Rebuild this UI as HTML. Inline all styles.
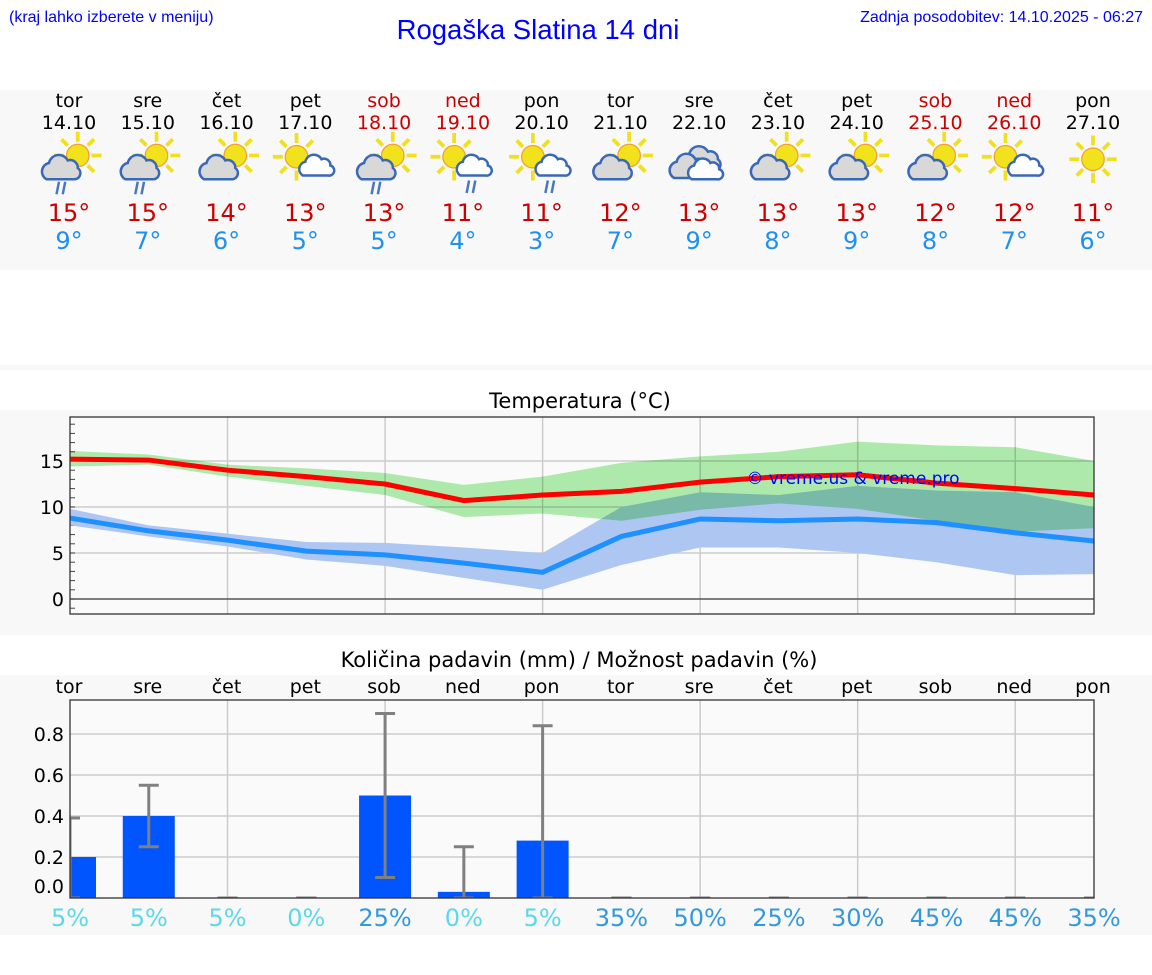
<!DOCTYPE html>
<html><head><meta charset="utf-8">
<style>
body{margin:0;background:#fff;width:1152px;height:975px;overflow:hidden;}
svg{display:block;font-family:"DejaVu Sans","Liberation Sans",sans-serif;}
.ls{font-family:"Liberation Sans",sans-serif;}
</style></head>
<body>
<svg id="root" width="1152" height="975" viewBox="0 0 1152 975">
<defs>
  <g id="sun">
    <g stroke="#f0e020" stroke-width="3" stroke-linecap="butt">
      <line x1="0" y1="-19" x2="0" y2="-11"/><line x1="0" y1="19" x2="0" y2="11"/>
      <line x1="-19" y1="0" x2="-11" y2="0"/><line x1="19" y1="0" x2="11" y2="0"/>
      <line x1="-13" y1="-13" x2="-8" y2="-8"/><line x1="13" y1="13" x2="8" y2="8"/>
      <line x1="-13" y1="13" x2="-8" y2="8"/><line x1="13" y1="-13" x2="8" y2="-8"/>
    </g>
    <circle r="9" fill="#f2e21c" stroke="#f0a030" stroke-width="1"/>
  </g>
  <path id="cloudg" d="M-14,8 a7,7 0 0 1 2,-13 a8,8 0 0 1 15,-2 a6,6 0 0 1 8,6 a5,5 0 0 1 -2,9 z" fill="#d8d8d8" stroke="#3a68b8" stroke-width="2"/>
  <path id="cloudw" d="M-12,7 a6,6 0 0 1 2,-11 a7,7 0 0 1 13,-2 a5,5 0 0 1 7,5 a4,4 0 0 1 -2,8 z" fill="#fff" stroke="#3a68b8" stroke-width="2"/>
  <g id="rain" stroke="#4a78c0" stroke-width="2"><line x1="-3" y1="0" x2="-5" y2="10"/><line x1="2" y1="0" x2="0" y2="10"/></g>
</defs>
<text class="ls" x="9" y="22" font-size="16" fill="#0000ff">(kraj lahko izberete v meniju)</text>
<text class="ls" x="538" y="39" font-size="27.5" fill="#0000ff" text-anchor="middle">Rogaška Slatina 14 dni</text>
<text class="ls" x="1143" y="22" font-size="16" fill="#0000ff" text-anchor="end">Zadnja posodobitev: 14.10.2025 - 06:27</text>
<rect x="0" y="90" width="1152" height="180" fill="#f8f8f8"/>
<rect x="0" y="365" width="1152" height="5" fill="#f8f8f8"/>
<rect x="0" y="410" width="1152" height="225" fill="#f8f8f8"/>
<rect x="0" y="675" width="1152" height="260" fill="#f8f8f8"/>
<text x="580" y="408" font-size="21" text-anchor="middle" fill="#000">Temperatura (°C)</text>
<text x="579" y="667" font-size="21" text-anchor="middle" fill="#000">Količina padavin (mm) / Možnost padavin (%)</text>
<g id="header"></g>
<g id="temp"></g>
<g id="prec"></g>
</svg>
<script>
const days=["tor","sre","čet","pet","sob","ned","pon","tor","sre","čet","pet","sob","ned","pon"];
const dates=["14.10","15.10","16.10","17.10","18.10","19.10","20.10","21.10","22.10","23.10","24.10","25.10","26.10","27.10"];
const weekend=[0,0,0,0,1,1,0,0,0,0,0,1,1,0];
const icons=["csr","csr","cs","sw","csr","swr","swr","cs","ov","cs","cs","cs","sw","s"];
const hiLabels=[15,15,14,13,13,11,11,12,13,13,13,12,12,11];
const loLabels=[9,7,6,5,5,4,3,7,9,8,9,8,7,6];
const tMax=[15.2,15.1,14.0,13.3,12.5,10.7,11.3,11.7,12.7,13.3,13.5,12.6,12.0,11.3];
const tMin=[8.8,7.4,6.4,5.2,4.8,3.9,2.9,6.8,8.7,8.5,8.7,8.3,7.2,6.3];
const maxHi=[16.1,15.7,14.6,14.2,13.7,12.4,13.3,14.8,15.5,16.0,17.1,16.7,16.5,15.0];
const maxLo=[14.4,14.6,13.3,12.3,11.3,8.9,9.3,8.5,9.7,10.4,9.8,8.5,7.3,7.7];
const minHi=[9.8,8.0,7.1,6.2,6.1,5.6,5.0,10.0,11.6,11.3,12.3,11.8,11.6,10.0];
const minLo=[8.0,6.8,5.7,4.3,3.6,2.3,1.0,3.7,5.6,5.6,5.0,4.0,2.6,2.7];
const tTicks=[0,5,10,15];
const rain=[0.2,0.4,0,0,0.5,0.03,0.28,0,0,0,0,0,0,0];
const rainLo=[0,0.25,0,0,0.1,0,0,0,0,0,0,0,0,0];
const rainHi=[0.39,0.55,0,0,0.9,0.25,0.84,0,0,0,0,0,0,0];
const pct=[5,5,5,0,25,0,5,35,50,25,30,45,45,35];
const pTicks=[0.0,0.2,0.4,0.6,0.8];

const NS="http://www.w3.org/2000/svg";
function mk(tag,attrs,parent,text){const e=document.createElementNS(NS,tag);for(const k in attrs)e.setAttribute(k,attrs[k]);if(text!==undefined)e.textContent=text;parent.appendChild(e);return e;}
const X0=70,X1=1094;
const xd=i=>X0+i*(X1-X0)/13;
const yt=v=>599-v*9.2;
const yp=v=>898-v*205;

// header
const H=document.getElementById('header');
days.forEach((d,i)=>{
  const x=xd(i)-1,col=weekend[i]?"#cc0000":"#000";
  let t=mk('text',{x:x,y:107,'font-size':19,'text-anchor':'middle',fill:col},H,d);
  
  t=mk('text',{x:x,y:129,'font-size':19,'text-anchor':'middle',fill:col},H,dates[i]);
  
  const g=mk('g',{transform:`translate(${x},163) scale(1.25)`},H);
  
  const ic=icons[i];
  if(ic==="csr"||ic==="cs"){mk('use',{href:'#sun',x:7,y:-6},g);mk('use',{href:'#cloudg',x:-4,y:5},g);if(ic==="csr")mk('use',{href:'#rain',x:-5,y:15},g);}
  if(ic==="sw"||ic==="swr"){mk('use',{href:'#sun',x:-7,y:-5},g);mk('use',{href:'#cloudw',x:10,y:3},g);if(ic==="swr")mk('use',{href:'#rain',x:8,y:14},g);}
  if(ic==="ov"){mk('use',{href:'#cloudg',x:4,y:-2},g);mk('use',{href:'#cloudg',x:-6,y:4},g);mk('use',{href:'#cloudw',x:6,y:6},g);}
  if(ic==="s"){mk('use',{href:'#sun',x:0,y:-3},g);}
  t=mk('text',{x:x,y:221,'font-size':24,'text-anchor':'middle',fill:'#cc0000'},H,hiLabels[i]+"°");
  
  t=mk('text',{x:x,y:249,'font-size':24,'text-anchor':'middle',fill:'#2090f0'},H,loLabels[i]+"°");
  
});

// temperature chart
const T=document.getElementById('temp');
let r=mk('rect',{x:X0,y:417,width:X1-X0,height:197,fill:'#fafafa'},T);

for(let i=2;i<13;i+=2){let l=mk('line',{x1:xd(i),x2:xd(i),y1:417,y2:614,stroke:'#ccc','stroke-width':1.5},T);}
tTicks.forEach(v=>{let l=mk('line',{x1:X0,x2:X1,y1:yt(v),y2:yt(v),stroke:v===0?'#555':'#ccc','stroke-width':1.5},T);
  let t=mk('text',{x:64,y:yt(v)+7,'font-size':19,'text-anchor':'end',fill:'#000'},T,String(v));});
for(let v=-1;v<=19;v++){let l=mk('line',{x1:X0,x2:X0+5,y1:yt(v),y2:yt(v),stroke:'#444','stroke-width':1},T);}
function band(hi,lo,fill,blend,name){let pts=hi.map((v,i)=>xd(i)+','+yt(v)).concat(lo.map((v,i)=>xd(i)+','+yt(v)).reverse());
  let p=mk('polygon',{points:pts.join(' '),fill:fill,style:blend?'mix-blend-mode:multiply':''},T);}
band(minHi,minLo,'#aec6f2',false,'min-temp-range-band');
band(maxHi,maxLo,'#b2eeb0',true,'max-temp-range-band');
function line(arr,col,name){let p=mk('polyline',{points:arr.map((v,i)=>xd(i)+','+yt(v)).join(' '),fill:'none',stroke:col,'stroke-width':5},T);}
line(tMin,'#1e90ff','min-temp-line');
line(tMax,'#ff0000','max-temp-line');
let wm=mk('text',{x:853,y:484,'font-size':17,'text-anchor':'middle',fill:'#0000ff'},T,'© vreme.us & vreme.pro');

r=mk('rect',{x:X0,y:417,width:X1-X0,height:197,fill:'none',stroke:'#333','stroke-width':1.3},T);


// precipitation chart
const P=document.getElementById('prec');
r=mk('rect',{x:X0,y:700,width:X1-X0,height:198,fill:'#fafafa'},P);

for(let i=2;i<13;i+=2){let l=mk('line',{x1:xd(i),x2:xd(i),y1:700,y2:898,stroke:'#ccc','stroke-width':1.5},P);}
pTicks.forEach(v=>{if(v>0){let l=mk('line',{x1:X0,x2:X1,y1:yp(v),y2:yp(v),stroke:'#ccc','stroke-width':1.5},P);}
  let t=mk('text',{x:64,y:yp(v)+(v===0?-5:7),'font-size':19,'text-anchor':'end',fill:'#000'},P,v.toFixed(1));});
days.forEach((d,i)=>{let t=mk('text',{x:xd(i)-1,y:693,'font-size':19,'text-anchor':'middle',fill:'#000'},P,d);});
const clip=mk('clipPath',{id:'pc'},P);mk('rect',{x:X0,y:700,width:X1-X0,height:198},clip);
const pg=mk('g',{'clip-path':'url(#pc)'},P);
rain.forEach((v,i)=>{if(v>0){let b=mk('rect',{x:xd(i)-26,y:yp(v),width:52,height:yp(0)-yp(v),fill:'#0055ff'},pg);}});
rain.forEach((v,i)=>{const x=xd(i);const g=mk('g',{stroke:'#808080','stroke-width':3},pg);
  
  if(rainHi[i]>rainLo[i])mk('line',{x1:x,x2:x,y1:yp(rainLo[i]),y2:yp(rainHi[i])},g);
  mk('line',{x1:x-10,x2:x+10,y1:yp(rainHi[i]),y2:yp(rainHi[i])},g);
  mk('line',{x1:x-10,x2:x+10,y1:yp(rainLo[i]),y2:yp(rainLo[i])},g);});
r=mk('rect',{x:X0,y:700,width:X1-X0,height:198,fill:'none',stroke:'#333','stroke-width':1.3},P);

pct.forEach((v,i)=>{let t=mk('text',{x:xd(i),y:926,'font-size':24,'text-anchor':'middle',fill:v>=25?'#3399dd':'#5cd8ea'},P,v+'%');});
</script>
</body></html>
